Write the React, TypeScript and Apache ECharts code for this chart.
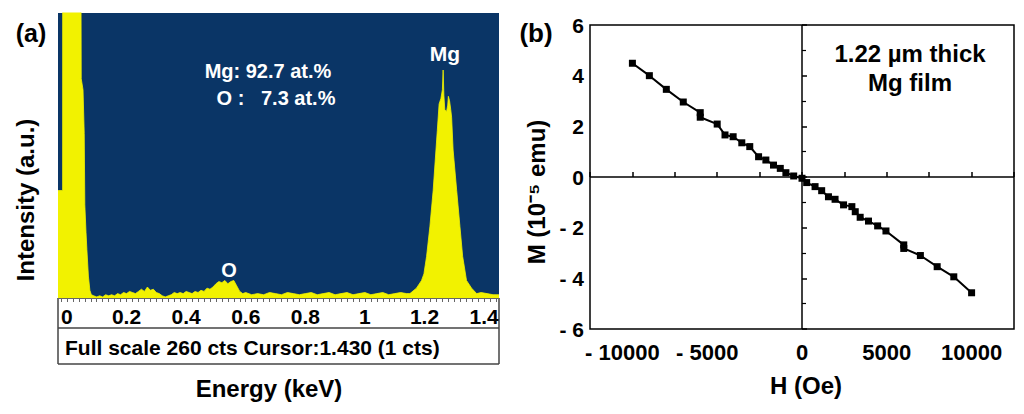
import { useEffect, useRef } from 'react';
import * as echarts from 'echarts';

// ---- Panel (a): EDS spectrum ----
const ENERGY = [
  -0.03, -0.0145, -0.0142, 0.046, 0.048, 0.054, 0.058, 0.06, 0.064, 0.067, 0.072, 0.077, 0.082, 0.09,
  0.1, 0.11, 0.12, 0.13, 0.14, 0.15, 0.16, 0.17, 0.18, 0.19, 0.2, 0.21, 0.22, 0.23, 0.24, 0.25,
  0.26, 0.27, 0.28, 0.29, 0.3, 0.31, 0.32, 0.33, 0.34, 0.35, 0.36, 0.37, 0.38, 0.39, 0.4, 0.41,
  0.42, 0.43, 0.44, 0.45, 0.46, 0.47, 0.48, 0.49, 0.5, 0.51, 0.52, 0.53, 0.54, 0.55, 0.56, 0.57,
  0.58, 0.59, 0.6, 0.62, 0.64, 0.66, 0.68, 0.7, 0.72, 0.74, 0.76, 0.78, 0.8, 0.82, 0.84, 0.86,
  0.88, 0.9, 0.92, 0.94, 0.96, 0.98, 1.0, 1.02, 1.04, 1.06, 1.08, 1.1, 1.12, 1.14, 1.151, 1.173,
  1.19, 1.198, 1.207, 1.218, 1.229, 1.243, 1.249, 1.255, 1.26, 1.2625, 1.265, 1.268, 1.274, 1.278,
  1.28, 1.284, 1.288, 1.291, 1.296, 1.308, 1.319, 1.328, 1.341, 1.358, 1.375, 1.39, 1.41, 1.43, 1.45,
];
const COUNTS = [
  98, 98, 400, 400, 200, 190, 150, 85, 60, 44, 20, 7, 3, 2,
  1, 2, 1, 3, 2, 3, 2, 4, 3, 5, 4, 6, 5, 4, 6, 8,
  6, 10, 7, 8, 5, 4, 2, 1, 2, 3, 5, 4, 5, 4, 6, 5,
  4, 6, 5, 7, 6, 9, 8, 10, 13, 15, 14, 16, 13, 15, 16, 11,
  6, 4, 5, 3, 4, 3, 5, 4, 3, 5, 4, 3, 4, 5, 3, 4,
  5, 3, 4, 5, 3, 4, 5, 3, 4, 5, 3, 4, 5, 4, 4, 9,
  16, 22, 38, 65, 98, 153, 177, 182, 190, 208, 185, 172, 170, 176,
  184, 180, 172, 165, 135, 98, 65, 38, 16, 9, 4, 5, 4, 3, 3,
];
const EDS_TICK_LABELS = [0, 0.2, 0.4, 0.6, 0.8, 1, 1.2, 1.4];

// ---- Panel (b): M-H curve ----
const FIELD_H = [
  -10000, -9000, -8000, -7000, -6000, -6000, -5000, -4540, -4060, -3550, -3080, -2560, -2130,
  -1680, -1280, -950, -490, 0, 275, 770, 1160, 1560, 1950, 2450, 2940, 3140, 3430, 3920, 4460,
  4950, 6000, 6000, 6980, 7970, 8950, 10000,
];
const MOMENT_M = [
  4.49, 4.0, 3.46, 2.96, 2.54, 2.36, 2.09, 1.66, 1.59, 1.35, 1.2, 0.8, 0.67,
  0.47, 0.34, 0.17, 0.04, -0.05, -0.22, -0.38, -0.54, -0.78, -0.88, -1.1, -1.17, -1.37, -1.59, -1.74, -1.93,
  -2.13, -2.68, -2.82, -3.1, -3.54, -3.94, -4.57,
];

const FONT = '"Liberation Sans", Arial, Helvetica, sans-serif';
const BLUE = '#0a3566';
const YELLOW = '#f2f200';

function txt(text: string, x: number, y: number, size: number, fill = '#000', extra: any = {}) {
  return {
    type: 'text',
    x,
    y,
    ...extra,
    style: {
      text,
      fill,
      fontSize: size,
      fontWeight: 'bold',
      fontFamily: FONT,
      align: 'center',
      verticalAlign: 'middle',
    },
  };
}

function ln(x1: number, y1: number, x2: number, y2: number, color = '#444', w = 1.5) {
  return {
    type: 'line',
    shape: { x1, y1, x2, y2 },
    style: { stroke: color, lineWidth: w },
  };
}

export default function App() {
  const ref = useRef<HTMLDivElement>(null);

  useEffect(() => {
    const chart = echarts.init(ref.current!, null, { renderer: 'svg' });
    const smallTicks: number[] = [];
    for (let i = -1; i <= 72; i++) smallTicks.push(Math.round(i * 2) / 100);

    const labelBase = { fontSize: 22, fontWeight: 'bold', color: '#000', fontFamily: FONT };

    const option: any = {
      animation: false,
      backgroundColor: '#fff',
      grid: [
        { left: 58, top: 13, width: 441, height: 285, show: true, backgroundColor: BLUE, borderWidth: 0 },
        { left: 590, top: 25, width: 424, height: 304, show: true, backgroundColor: '#fff', borderColor: '#000', borderWidth: 1.5 },
      ],
      xAxis: [
        {
          gridIndex: 0,
          type: 'value',
          min: -0.03,
          max: 1.45,
          axisLine: { show: true, lineStyle: { color: '#666', width: 1 } },
          axisTick: { show: true, customValues: smallTicks, length: 4, lineStyle: { color: '#666' } },
          axisLabel: {
            customValues: EDS_TICK_LABELS,
            fontSize: 21,
            fontWeight: 'bold',
            color: '#000',
            fontFamily: FONT,
            margin: 8,
          },
          splitLine: { show: false },
        },
        {
          gridIndex: 1,
          type: 'value',
          min: -12500,
          max: 12500,
          interval: 2500,
          axisLine: { show: false },
          axisTick: { show: true, inside: true, length: 5, lineStyle: { color: '#000', width: 1.5 } },
          axisLabel: {
            ...labelBase,
            margin: 12,
            formatter: (v: number) => {
              if (Math.abs(v) > 10000 || v % 5000 !== 0) return '';
              if (v < 0) return '{neg|- ' + -v + '}';
              return String(v);
            },
            rich: {
              neg: { ...labelBase, padding: [0, 20, 0, 0] },
            },
          },
          splitLine: { show: false },
        },
      ],
      yAxis: [
        { gridIndex: 0, type: 'value', min: 0, max: 260, show: false },
        {
          gridIndex: 1,
          type: 'value',
          min: -6,
          max: 6,
          interval: 2,
          axisLine: { show: false },
          axisTick: { show: true, inside: true, length: 5, lineStyle: { color: '#000', width: 1.5 } },
          minorTick: { show: true, splitNumber: 2, length: 4, lineStyle: { color: '#000', width: 1.2 } },
          axisLabel: {
            fontSize: 21,
            fontWeight: 'bold',
            color: '#000',
            fontFamily: FONT,
            margin: 6,
            formatter: (v: number) => (v < 0 ? '- ' + -v : String(v)),
          },
          splitLine: { show: false },
        },
      ],
      series: [
        {
          type: 'line',
          xAxisIndex: 0,
          yAxisIndex: 0,
          data: ENERGY.map((e, i) => [e, COUNTS[i]]),
          showSymbol: false,
          clip: true,
          lineStyle: { color: YELLOW, width: 0.8 },
          areaStyle: { color: YELLOW, opacity: 1 },
          silent: true,
        },
        {
          type: 'line',
          xAxisIndex: 1,
          yAxisIndex: 1,
          data: FIELD_H.map((h, i) => [h, MOMENT_M[i]]),
          symbol: 'rect',
          symbolSize: 7,
          lineStyle: { color: '#000', width: 2 },
          itemStyle: { color: '#000' },
          silent: true,
          markLine: {
            silent: true,
            symbol: ['none', 'none'],
            label: { show: false },
            lineStyle: { color: '#000', width: 1.5, type: 'solid' },
            data: [{ xAxis: 0 }, { yAxis: 0 }],
          },
        },
      ],
      graphic: [
        // panel (a) lower box
        ln(58, 328, 499, 328),
        ln(58, 364, 499, 364),
        ln(58, 298, 58, 364),
        ln(499, 298, 499, 364),
        txt('(a)', 31, 33, 25),
        txt('Mg: 92.7 at.%', 268, 71, 20, '#fff'),
        txt('O :   7.3 at.%', 276, 98, 20, '#fff'),
        txt('Mg', 445, 53, 21, '#fff'),
        txt('O', 229, 270, 20, '#fff'),
        {
          type: 'text',
          x: 65,
          y: 347,
          style: {
            text: 'Full scale 260 cts Cursor:1.430 (1 cts)',
            fill: '#000',
            fontSize: 21,
            fontWeight: 'bold',
            fontFamily: FONT,
            align: 'left',
            verticalAlign: 'middle',
          },
        },
        txt('Energy (keV)', 269, 388, 24),
        txt('Intensity (a.u.)', 25, 200, 24, '#000', { rotation: Math.PI / 2 }),
        // panel (b)
        txt('(b)', 536, 33, 26),
        txt('1.22 µm thick', 910, 53, 24),
        txt('Mg film', 910, 82, 24),
        txt('H (Oe)', 806, 385, 24),
        txt('M (10⁻⁵ emu)', 536, 192, 24, '#000', { rotation: Math.PI / 2 }),
      ],
    };

    chart.setOption(option);
    return () => chart.dispose();
  }, []);

  return (
    <div
      ref={ref}
      style={{ position: 'fixed', left: 0, top: 0, width: 1024, height: 414, background: '#fff' }}
    />
  );
}
